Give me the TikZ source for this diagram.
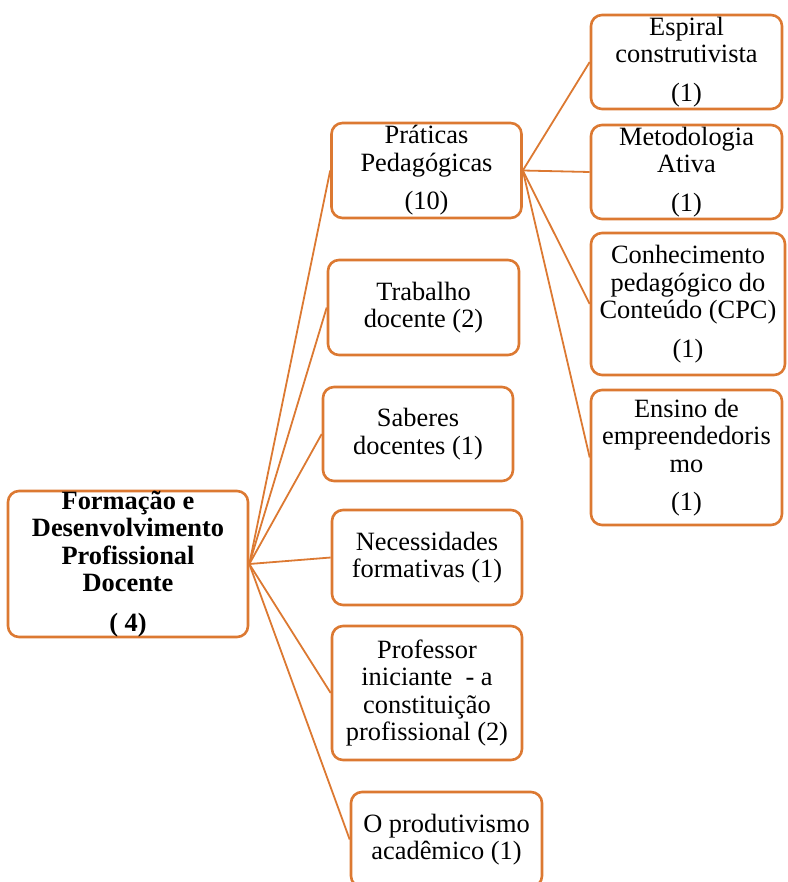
\documentclass[tikz,border=0pt]{standalone}
\usepackage{fontspec}
\setmainfont{Liberation Serif}
\definecolor{boxorange}{RGB}{220,121,50}

\begin{document}
\begin{tikzpicture}[x=1pt,y=-1pt,
  caixa/.style={draw=boxorange,line width=2.6pt,rounded corners=11pt,fill=white,
    align=center,inner sep=0pt,font=\fontsize{26.4}{27.5}\selectfont},
  liga/.style={draw=boxorange,line width=1.8pt}]
\useasboundingbox (0,0) rectangle (787,882);
% nivel 1
\node[caixa,minimum width=240,minimum height=144] (raiz) at (128,564)
  {\textbf{Formação e}\\\textbf{Desenvolvimento}\\\textbf{Profissional}\\\textbf{Docente}\\[12pt]\textbf{( 4)}};
% nivel 2
\node[caixa,minimum width=190,minimum height=95] (praticas) at (426.5,170.5)
  {Práticas\\Pedagógicas\\[11pt](10)};
\node[caixa,minimum width=191,minimum height=95] (trabalho) at (423.5,307.5)
  {Trabalho\\docente (2)};
\node[caixa,minimum width=190,minimum height=94] (saberes) at (418,434)
  {Saberes\\docentes (1)};
\node[caixa,minimum width=190,minimum height=95] (necessidades) at (427,557.5)
  {Necessidades\\formativas (1)};
\node[caixa,minimum width=190,minimum height=134] (professor) at (427,693)
  {Professor\\iniciante\ \ - a\\constituição\\profissional (2)};
\node[caixa,minimum width=191,minimum height=95] (produtivismo) at (446.5,839.5)
  {O produtivismo\\acadêmico (1)};
% nivel 3
\node[caixa,minimum width=191,minimum height=94] (espiral) at (686.5,62)
  {Espiral\\construtivista\\[11pt](1)};
\node[caixa,minimum width=191,minimum height=94] (metodologia) at (686.5,172)
  {Metodologia\\Ativa\\[11pt](1)};
\node[caixa,minimum width=194,minimum height=142] (cpc) at (688,304)
  {Conhecimento\\pedagógico do\\Conteúdo (CPC)\\[11pt](1)};
\node[caixa,minimum width=191,minimum height=135] (ensino) at (686.5,457.5)
  {Ensino de\\empreendedoris\\mo\\[11pt](1)};
% ligacoes
\foreach \filho in {praticas,trabalho,saberes,necessidades,professor,produtivismo}
  \draw[liga] (raiz.east) -- (\filho.west);
\foreach \filho in {espiral,metodologia,cpc,ensino}
  \draw[liga] (praticas.east) -- (\filho.west);
\end{tikzpicture}
\end{document}
